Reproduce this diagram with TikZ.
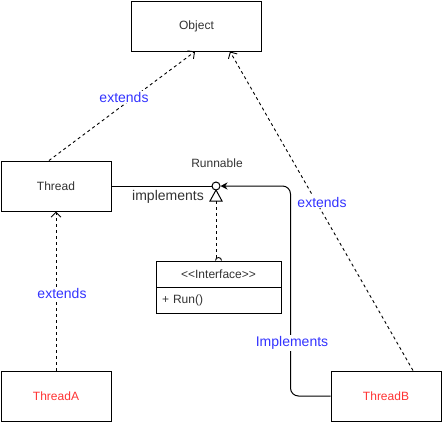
\documentclass[tikz,border=0pt]{standalone}
\usepackage{fontspec}
\setmainfont{Liberation Sans}
\usetikzlibrary{arrows.meta}
\definecolor{lblue}{RGB}{51,51,255}
\definecolor{lred}{RGB}{255,51,51}
\definecolor{tgray}{RGB}{51,51,51}
\tikzset{
  box/.style={draw=black, line width=1pt, rectangle, inner sep=0pt, minimum width=110pt, minimum height=50pt, font=\fontsize{12}{14}\selectfont, text=tgray},
  dep/.style={draw=black, line width=0.9pt, dash pattern=on 3pt off 3pt, -{Straight Barb[length=5pt,width=10pt,line width=0.9pt]}},
  lbl/.style={font=\fontsize{14}{16}\selectfont, text=lblue, fill=white, inner sep=1pt},
  solidline/.style={draw=black, line width=1pt}
}
\begin{document}
\begin{tikzpicture}[x=1pt,y=-1pt]
\useasboundingbox[fill=white] (0,0) rectangle (443,423);
\node[box, minimum width=130pt] (object) at (196.5,26) {Object};
\node[box] (thread) at (56,186) {Thread};
\node[box, text=lred] (threada) at (56,396) {ThreadA};
\node[box, text=lred] (threadb) at (386,396) {ThreadB};
\node[box, minimum width=125pt, minimum height=26pt] (ihead) at (218.5,274) {{<}{<}Interface{>}{>}};
\node[box, minimum width=125pt, minimum height=26pt, text width=113pt, align=left] (ibody) at (218.5,300) {+ Run()};
\node[draw=black, line width=1pt, circle, minimum size=8pt, inner sep=0pt] (runnable) at (216,186) {};
\node[font=\fontsize{12}{14}\selectfont, text=tgray] (rlabel) at (217,163) {Runnable};
\coordinate (tritop) at (216,190);
\coordinate (tribase) at (216,201);
\draw[solidline] (tritop) -- (210,201) -- (222,201) -- cycle;
\node[font=\fontsize{14}{16}\selectfont, text=tgray] (impl) at (168,197) {implements};
% Thread implements Runnable
\draw[solidline] (thread.east) -- (runnable.west);
% ThreadB implements Runnable
\draw[solidline, rounded corners=8pt, -{Stealth[length=7pt,width=7pt]}] (threadb.west) -- ++(-40,0) |- (runnable.east);
\node[lbl] (implb) at (292,343) {Implements};
% interface to lollipop
\coordinate (semi) at (216,258);
\draw[draw=black, line width=0.9pt, dash pattern=on 3pt off 3pt] (tribase) -- (semi);
\draw[draw=black, line width=0.9pt] ([xshift=-3pt]ihead.north) arc[start angle=180, end angle=0, radius=3pt];
% extends
\draw[dep] ([xshift=-7pt]thread.north) -- ([xshift=-1.5pt]object.south);
\node[lbl] (ext1) at (124,97) {extends};
\draw[dep] (threada.north) -- (thread.south);
\node[lbl] (ext2) at (62,293) {extends};
\draw[dep] ([xshift=27pt]threadb.north) -- ([xshift=33.5pt]object.south);
\node[lbl] (ext3) at (322,202) {extends};
\end{tikzpicture}
\end{document}
